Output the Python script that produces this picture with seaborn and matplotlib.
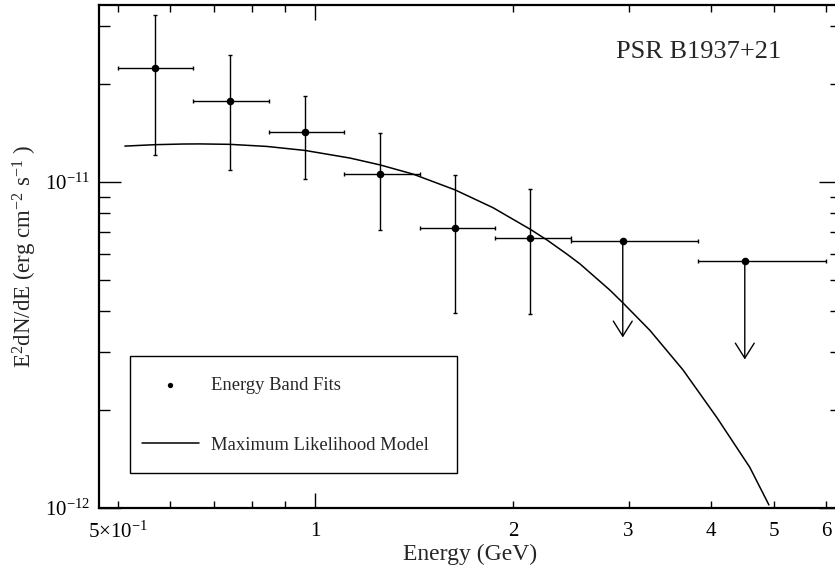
import numpy as np
import matplotlib
matplotlib.use("Agg")
import matplotlib.pyplot as plt
from matplotlib.patches import Rectangle
from matplotlib.ticker import FixedLocator, FixedFormatter, NullFormatter
import seaborn as sns

# ==========================
# Data
# ==========================

# energy band fits (GeV, erg cm^-2 s^-1)
band_energy = [0.571, 0.741, 0.965, 1.256, 1.634, 2.123, 2.94, 4.51]
band_flux = [2.23e-11, 1.77e-11, 1.42e-11, 1.056e-11, 7.21e-12, 6.73e-12, 6.59e-12, 5.70e-12]
band_lo = [0.50, 0.652, 0.850, 1.107, 1.444, 1.880, 2.452, 3.83]
band_hi = [0.652, 0.850, 1.107, 1.444, 1.880, 2.452, 3.83, 6.0]
flux_hi = [3.25e-11, 2.45e-11, 1.835e-11, 1.408e-11, 1.046e-11, 9.50e-12]
flux_lo = [1.21e-11, 1.086e-11, 1.017e-11, 7.11e-12, 3.96e-12, 3.94e-12]
is_limit = [False, False, False, False, False, False, True, True]
limit_tip = [3.33e-12, 2.85e-12]

# maximum likelihood model curve
model_energy = [0.513, 0.570, 0.629, 0.667, 0.742, 0.844, 0.965, 1.129, 1.255,
                1.409, 1.632, 1.865, 2.123, 2.254, 2.417, 2.530, 2.811, 2.942,
                3.234, 3.630, 4.090, 4.590, 4.908]
model_flux = [1.287e-11, 1.300e-11, 1.306e-11, 1.307e-11, 1.303e-11, 1.284e-11,
              1.248e-11, 1.183e-11, 1.127e-11, 1.056e-11, 9.45e-12, 8.33e-12,
              7.16e-12, 6.63e-12, 6.00e-12, 5.60e-12, 4.65e-12, 4.25e-12,
              3.50e-12, 2.65e-12, 1.89e-12, 1.33e-12, 1.02e-12]

x_major = [1]
x_minor = [0.5, 0.6, 0.7, 0.8, 0.9, 2, 3, 4, 5, 6]
x_minor_labels = ["5\u00d710$^{-1}$", "", "", "", "", "2", "3", "4", "5", "6"]
y_major = [1e-12, 1e-11]
y_major_labels = ["10$^{-12}$", "10$^{-11}$"]
y_minor = [2e-12, 3e-12, 4e-12, 5e-12, 6e-12, 7e-12, 8e-12, 9e-12, 2e-11, 3e-11]

# ==========================
# Style
# ==========================

sns.set_style("ticks")
plt.rcParams["font.family"] = ["Liberation Serif", "DejaVu Serif"]
plt.rcParams["mathtext.fontset"] = "custom"
plt.rcParams["mathtext.rm"] = "Liberation Serif"
plt.rcParams["mathtext.it"] = "Liberation Serif:italic"
plt.rcParams["mathtext.bf"] = "Liberation Serif:bold"
plt.rcParams["mathtext.default"] = "rm"

fig = plt.figure(figsize=(8.35, 5.70), dpi=100)
ax = fig.add_axes([0.1182, 0.1093, 0.8890, 0.8828])

det = [i for i, lim in enumerate(is_limit) if not lim]
ul = [i for i, lim in enumerate(is_limit) if lim]

e = np.array(band_energy)
f = np.array(band_flux)
xerr = np.array([e - np.array(band_lo), np.array(band_hi) - e])

# horizontal bars for every band
ax.errorbar(e, f, xerr=xerr, fmt="none", ecolor="black", elinewidth=1.0,
            capsize=1.6, capthick=1.0)
# vertical bars for detections
yerr = np.array([f[det] - np.array(flux_lo), np.array(flux_hi) - f[det]])
ax.errorbar(e[det], f[det], yerr=yerr, fmt="none", ecolor="black",
            elinewidth=1.0, capsize=1.6, capthick=1.0)

# upper limit arrows
for i, tip in zip(ul, limit_tip):
    ax.annotate("", xy=(e[i], tip), xytext=(e[i], f[i]),
                arrowprops=dict(arrowstyle="->,head_length=0.54,head_width=0.34",
                                color="black", lw=1.0, shrinkA=0, shrinkB=0,
                                mutation_scale=20))

sns.scatterplot(x=band_energy, y=band_flux, ax=ax, color="black", s=30,
                linewidth=0, zorder=5, label="Energy Band Fits")
sns.lineplot(x=model_energy, y=model_flux, ax=ax, color="black", lw=1.1,
             sort=False, label="Maximum Likelihood Model")

ax.set_xscale("log")
ax.set_yscale("log")
ax.set_xlim(0.468, 6.32)
ax.set_ylim(1e-12, 3.5e-11)

ax.xaxis.set_major_locator(FixedLocator(x_major))
ax.xaxis.set_major_formatter(FixedFormatter(["1"]))
ax.xaxis.set_minor_locator(FixedLocator(x_minor))
ax.xaxis.set_minor_formatter(FixedFormatter(x_minor_labels))
ax.yaxis.set_major_locator(FixedLocator(y_major))
ax.yaxis.set_major_formatter(FixedFormatter(y_major_labels))
ax.yaxis.set_minor_locator(FixedLocator(y_minor))
ax.yaxis.set_minor_formatter(NullFormatter())

ax.tick_params(axis="both", which="both", direction="in", top=True, right=True,
               colors="black", labelsize=15, width=1.0)
ax.tick_params(axis="x", which="major", length=10.8, pad=10)
ax.tick_params(axis="x", which="minor", length=5.0, pad=10)
ax.tick_params(axis="y", which="major", length=16, pad=6)
ax.tick_params(axis="y", which="minor", length=8)

for side in ["left", "right", "top", "bottom"]:
    ax.spines[side].set_linewidth(1.6)
    ax.spines[side].set_color("black")

ax.set_xlabel("Energy (GeV)", fontsize=17)
ax.set_ylabel("E$^{2}$dN/dE (erg cm$^{-2}$ s$^{-1}$ )", fontsize=16.5)
ax.xaxis.set_label_coords(0.5, -0.072)
ax.yaxis.set_label_coords(-0.080, 0.5)

ax.text(0.808, 0.905, "PSR B1937+21", transform=ax.transAxes, fontsize=19,
        ha="center", va="center")

# legend: entries without frame, box drawn separately
leg = ax.legend(loc="center left", bbox_to_anchor=(0.0583, 0.1835),
                borderaxespad=0, borderpad=0, fontsize=13.4, frameon=False,
                labelspacing=2.28, handlelength=3.06, handletextpad=0.65,
                markerscale=0.7)
ax.add_patch(Rectangle((0.0422, 0.0684), 0.4401, 0.2325, transform=ax.transAxes,
                       fill=False, edgecolor="black", lw=1.0, zorder=6))

plt.savefig("out.png", dpi=100)
plt.close()
